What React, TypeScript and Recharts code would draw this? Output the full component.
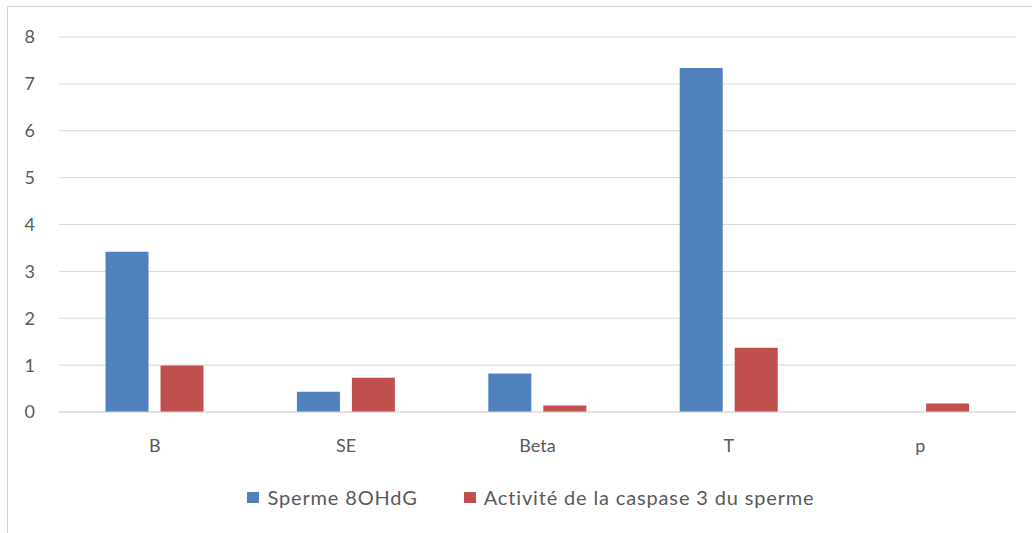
import React from "react";
import { BarChart, Bar, XAxis, YAxis, CartesianGrid, Legend } from "recharts";

const categories = ["B", "SE", "Beta", "T", "p"];
const sperme8OHdG = [3.42, 0.43, 0.82, 7.34, 0];
const caspase3 = [0.99, 0.73, 0.14, 1.37, 0.18];
const seriesNames = ["Sperme 8OHdG", "Activité de la caspase 3 du sperme"];
const yTicks = [0, 1, 2, 3, 4, 5, 6, 7, 8];

const BLUE = "#4f81bd";
const RED = "#c0504d";
const GRID = "#d9d9d9";
const TEXT = "#595959";
const FONT = "Lato, 'Open Sans', sans-serif";

const data = categories.map((name, i) => ({
  name,
  sperme: sperme8OHdG[i],
  caspase: caspase3[i],
}));

// legend drawn in series order (recharts sorts the payload by name otherwise)
function LegendContent() {
  const colors = [BLUE, RED];
  return (
    <div style={{ display: "flex", justifyContent: "center", alignItems: "center", height: 24, paddingLeft: 22, fontFamily: FONT, fontSize: 20, color: TEXT, letterSpacing: 0.85 }}>
      {seriesNames.map((n, i) => (
        <div key={n} style={{ display: "flex", alignItems: "center", marginRight: i === 0 ? 46 : 0 }}>
          <span style={{ display: "inline-block", width: 12, height: 11, background: colors[i], marginRight: 8 }} />
          <span>{n}</span>
        </div>
      ))}
    </div>
  );
}

export default function App() {
  return (
    <div style={{ width: 1024, height: 525 }}>
      {/* chart frame: only its top and left edges fall inside the window */}
      <div
        style={{
          position: "fixed",
          left: 7,
          top: 6,
          width: 1100,
          height: 600,
          boxSizing: "border-box",
          borderTop: "1px solid #d4d4d4",
          borderLeft: "1px solid #d4d4d4",
          pointerEvents: "none",
          zIndex: 5,
        }}
      />
      <BarChart
        width={1024}
        height={525}
        data={data}
        margin={{ top: 29, right: 16, left: 0, bottom: 81 }}
        barCategoryGap="24.3%"
        barGap={12}
      >
        <CartesianGrid vertical={false} stroke={GRID} strokeWidth={1} />
        <XAxis
          dataKey="name"
          height={40}
          axisLine={{ stroke: GRID }}
          tickLine={false}
          tickSize={0}
          tickMargin={27}
          tick={{ fontSize: 18, fill: TEXT, fontFamily: FONT }}
        />
        <YAxis
          width={51}
          domain={[0, 8]}
          ticks={yTicks}
          axisLine={false}
          tickLine={false}
          tickSize={0}
          tickMargin={24}
          tick={{ fontSize: 18, fill: TEXT, fontFamily: FONT }}
        />
        <Legend
          verticalAlign="middle"
          align="center"
          layout="horizontal"
          wrapperStyle={{ top: 477, left: 0, width: 1024 }}
          content={<LegendContent />}
        />
        <Bar dataKey="sperme" name={seriesNames[0]} fill={BLUE} isAnimationActive={false} />
        <Bar dataKey="caspase" name={seriesNames[1]} fill={RED} isAnimationActive={false} />
      </BarChart>
    </div>
  );
}
